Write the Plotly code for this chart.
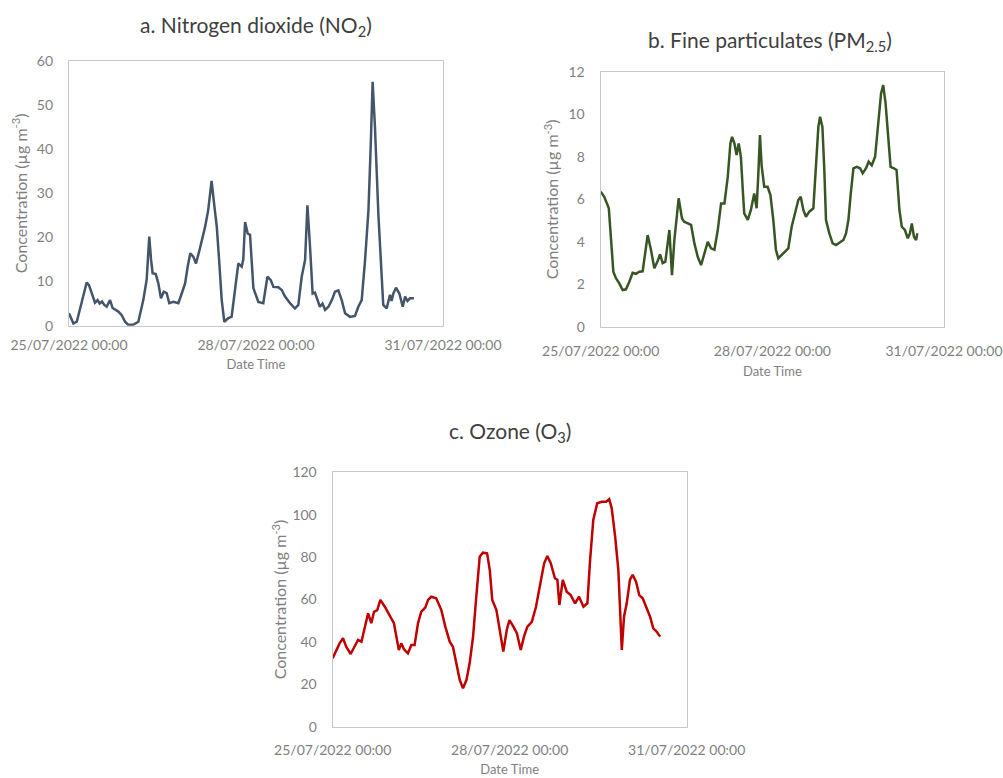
import pandas as pd
import plotly.graph_objects as go

# Hourly-scale monitoring readings, hours counted from 25/07/2022 00:00
start = pd.Timestamp("2022-07-25 00:00")

no2_hours = [0, 1.7, 3, 5.5, 6.8, 7.7, 9, 10, 11, 11.8, 12.7, 13.6, 14.5, 15.8, 16.8, 17.7, 19,
             20.3, 21.6, 22.8, 24.7, 26.7, 28.6, 29.9, 30.9, 31.6, 32.2, 33.4, 34.4, 35.4, 36.5,
             37.6, 38.6, 40.2, 42.1, 43.4, 44.7, 45.7, 46.7, 47.9, 48.9, 50.4, 52.4, 53.6, 54.9,
             56, 56.9, 57.8, 58.8, 59.8, 61.3, 62.6, 63.9, 65.2, 66.5, 67.1, 67.8, 68.8, 69.7,
             71, 72.9, 74.8, 76.4, 77.7, 78.7, 80.6, 81.9, 83.2, 85.1, 87, 88.3, 89.6, 90.9,
             91.8, 92.8, 93.8, 94.7, 95.6, 96.6, 97.6, 98.6, 99.9, 101.2, 102.4, 103.7, 105,
             106.3, 108.2, 110.1, 111.4, 112.7, 114, 115.3, 116.2, 116.9, 117.8, 119.1, 120.4,
             121, 122.3, 123.6, 124.2, 124.9, 125.9, 127.2, 128.5, 129.4, 130.3, 131.3, 132.8]
no2_values = [2.8, 0.5, 0.9, 6.6, 9.8, 9.2, 6.6, 5.2, 5.8, 5.0, 5.5, 4.7, 4.3, 5.8, 4.0, 3.6, 3.2,
              2.4, 0.9, 0.2, 0.2, 0.9, 5.8, 10.4, 20.2, 14.9, 11.9, 11.7, 9.6, 6.2, 7.7,
              7.4, 5.1, 5.4, 5.1, 7.3, 9.6, 13.4, 16.4, 15.6, 14.1, 17.5, 22.4, 26.2, 32.8,
              27.0, 22.4, 14.9, 5.8, 0.9, 1.7, 2.0, 8.8, 14.1, 13.4, 15.0, 23.5, 20.9, 20.6,
              8.5, 5.4, 5.1, 11.1, 10.3, 8.8, 8.7, 8.1, 6.6, 5.1, 3.9, 4.7, 11.1, 14.9,
              27.3, 17.9, 7.3, 7.5, 6.2, 4.3, 5.0, 3.6, 4.3, 5.8, 7.7, 8.0, 5.8,
              2.8, 2.0, 2.2, 4.3, 5.8, 14.9, 26.2, 41.3, 55.3, 45.1, 25.5, 11.1,
              4.7, 3.9, 7.0, 5.6, 7.3, 8.6, 7.3, 4.3, 6.6, 5.6, 6.2, 6.2]

pm25_hours = [0, 1.5, 3.4, 4.3, 5.3, 6.4, 7.8, 9.2, 10.6, 12, 13.4, 14.8, 16.2, 17.6, 18.7, 19.7,
              21.1, 22.5, 23.9, 24.9, 26, 27.1, 28.1, 28.8, 29.9, 30.9, 32.7, 34.1, 35, 36.5,
              37.9, 39.3, 40.7, 42.1, 43.5, 44.9, 46.3, 47.7, 49.1, 50.5, 51.9, 53.3, 54.4,
              55.1, 56.1, 57, 57.9, 58.8, 59.6, 60.2, 61.7, 63, 64.4, 65.4, 66.1, 66.8, 67.5,
              68.6, 70, 71.2, 72.4, 73.5, 74.5, 75.9, 77.3, 78.7, 80.1, 81.5, 82.9, 83.9, 85,
              86.1, 87.5, 89.2, 90.3, 91.3, 92, 93, 93.8, 94.5, 95.9, 97.3, 98.7, 100.4, 101.8,
              102.9, 103.9, 104.9, 106, 107.4, 108.8, 109.9, 111.3, 112.4, 113.7, 115.1, 116.4,
              117.6, 118.5, 119.5, 120.6, 121.6, 123, 124.1, 125.3, 126.3, 127.6, 128.8, 129.7,
              130.5, 131.4, 132.3, 132.8]
pm25_values = [6.36, 6.12, 5.58, 3.93, 2.6, 2.29, 2.05, 1.74, 1.77, 2.13, 2.55, 2.5, 2.6, 2.62, 3.62, 4.32,
               3.62, 2.76, 3.1, 3.42, 3.0, 3.07, 3.93, 4.56, 2.44, 4.09, 6.05, 5.1, 4.95, 4.87,
               4.8, 3.93, 3.3, 2.91, 3.46, 4.0, 3.7, 3.63, 4.56, 5.81, 5.81, 7.06, 8.63,
               8.94, 8.63, 8.08, 8.63, 8.0, 6.44, 5.34, 5.03, 5.5, 6.28, 5.58, 7.14, 9.02, 7.6,
               6.59, 6.59, 6.2, 5.03, 3.62, 3.23, 3.38, 3.54, 3.7, 4.71, 5.34, 5.97, 6.12, 5.5,
               5.18, 5.42, 5.58, 7.38, 9.41, 9.88, 9.41, 7.38, 5.03, 4.4, 3.93, 3.85, 4.0, 4.09,
               4.4, 5.03, 6.28, 7.46, 7.53, 7.46, 7.22, 7.46, 7.77, 7.6, 8.0, 9.57,
               10.98, 11.37, 10.51, 8.94, 7.53, 7.46, 7.38, 5.5, 4.71, 4.56, 4.17, 4.4,
               4.87, 4.24, 4.09, 4.4]

o3_hours = [0, 1.5, 2.8, 4.2, 5.5, 7.3, 9, 10.3, 11.7, 13, 14.4, 15.7, 16.8, 18.1, 19.4, 21.2,
            23.2, 24.9, 25.9, 26.9, 27.9, 29, 30.6, 32, 33.3, 34.7, 36, 37.7, 38.8, 40.1, 42.1,
            44.2, 45.8, 47.6, 48.9, 50.3, 51.7, 53, 54.4, 55.7, 57.1, 58.4, 59.8, 61.1, 62.8,
            63.9, 64.9, 66.6, 67.9, 69.4, 70.8, 71.9, 73.5, 74.9, 76.5, 77.8, 79.2, 81, 82.7,
            84.3, 86, 87.3, 88.7, 90.4, 91.4, 92.2, 93.6, 95.2, 96.8, 98.6, 100.2, 102, 103.6,
            104.7, 106, 107.6, 109.4, 111.2, 112.5, 113.5, 114.9, 116.2, 116.9, 117.6, 118.5,
            119.6, 120.9, 122, 123.4, 124.7, 126.1, 127.7, 129.1, 130.4, 131.8, 133.2]
o3_values = [32.3, 36.2, 39.3, 41.7, 37.7, 34.3, 37.7, 40.9, 40.1, 47.2, 53.5, 48.8, 54.2, 55.0, 59.8, 56.6,
             52.7, 48.8, 42.5, 36.2, 39.3, 36.5, 34.6, 38.5, 38.5, 48.8, 54.2, 56.3, 59.8, 61.3, 60.6,
             55.0, 47.2, 40.1, 37.7, 29.1, 22.0, 18.1, 22.0, 29.9, 42.5, 61.3, 80.2, 82.1, 81.8,
             73.9, 59.8, 55.0, 45.6, 35.4, 45.6, 50.3, 47.2, 44.1, 36.2, 42.5, 47.2, 49.5, 56.6,
             66.0, 77.1, 80.5, 77.1, 70.0, 69.3, 57.4, 69.2, 63.7, 62.1, 58.2, 61.3, 56.6, 58.2,
             78.6, 97.5, 105.4, 106.1, 106.1, 107.3, 103.0, 89.6, 73.9, 53.5, 36.2, 51.9,
             58.2, 69.2, 71.6, 68.4, 62.1, 60.6, 55.8, 51.9, 46.4, 44.8, 42.5]

x_tick_dates = ["2022-07-25", "2022-07-28", "2022-07-31"]
x_tick_text = ["25/07/2022 00:00", "28/07/2022 00:00", "31/07/2022 00:00"]


def to_times(hours):
    return start + pd.to_timedelta(hours, unit="h")


FONT = "Lato, 'Open Sans', sans-serif"
TICK_GREY = "#7f7f7f"
FRAME = "#c8c8c8"
W, H = 1003, 778

fig = go.Figure()
fig.add_trace(go.Scatter(x=to_times(no2_hours), y=no2_values, mode="lines",
                         line=dict(color="#44546A", width=2.5), xaxis="x", yaxis="y",
                         showlegend=False))
fig.add_trace(go.Scatter(x=to_times(pm25_hours), y=pm25_values, mode="lines",
                         line=dict(color="#375623", width=2.5), xaxis="x2", yaxis="y2",
                         showlegend=False))
fig.add_trace(go.Scatter(x=to_times(o3_hours), y=o3_values, mode="lines",
                         line=dict(color="#C00000", width=2.5), xaxis="x3", yaxis="y3",
                         showlegend=False))


def xaxis(domain, anchor, label_gap):
    return dict(domain=domain, anchor=anchor, type="date", automargin=False,
                range=[x_tick_dates[0], x_tick_dates[-1]],
                tickmode="array", tickvals=x_tick_dates, ticktext=x_tick_text,
                showgrid=False, zeroline=False, showline=True, mirror=True,
                linecolor=FRAME, linewidth=1.3, ticks="", ticklabelstandoff=label_gap,
                tickfont=dict(family=FONT, size=14, color=TICK_GREY),
                title=dict(text="Date Time", standoff=8,
                           font=dict(family=FONT, size=13, color=TICK_GREY)))


def yaxis(domain, anchor, top, step, title_gap):
    return dict(domain=domain, anchor=anchor, range=[0, top], dtick=step, tick0=0,
                automargin=False,
                showgrid=False, zeroline=False, showline=True, mirror=True,
                linecolor=FRAME, linewidth=1.3, ticks="", ticklabelstandoff=12,
                tickfont=dict(family=FONT, size=14, color=TICK_GREY),
                title=dict(text="Concentration (µg m<sup>-3</sup>)", standoff=title_gap,
                           font=dict(family=FONT, size=16, color=TICK_GREY)))


# Panel boxes in pixels: (left, right, top, bottom)
boxes = {
    "a": (69, 443, 61, 325.7),
    "b": (600.7, 944, 71.7, 327),
    "c": (332.7, 686.7, 472.3, 726.7),
}


def xdom(b):
    return [b[0] / W, b[1] / W]


def ydom(b):
    return [1 - b[3] / H, 1 - b[2] / H]


fig.update_layout(
    width=W, height=H,
    margin=dict(l=0, r=0, t=0, b=0),
    paper_bgcolor="white", plot_bgcolor="white",
    xaxis=xaxis(xdom(boxes["a"]), "y", 6),
    yaxis=yaxis(ydom(boxes["a"]), "x", 60, 10, 5),
    xaxis2=xaxis(xdom(boxes["b"]), "y2", 11),
    yaxis2=yaxis(ydom(boxes["b"]), "x2", 12, 2, 5),
    xaxis3=xaxis(xdom(boxes["c"]), "y3", 10),
    yaxis3=yaxis(ydom(boxes["c"]), "x3", 120, 20, 1),
)

titles = [
    ("a. Nitrogen dioxide (NO<sub>2</sub>)", 256, 26),
    ("b. Fine particulates (PM<sub>2.5</sub>)", 770, 41),
    ("c. Ozone (O<sub>3</sub>)", 510, 432),
]
for text, x, y in titles:
    fig.add_annotation(text=text, x=x / W, y=1 - y / H, xref="paper", yref="paper",
                       xanchor="center", yanchor="middle", showarrow=False,
                       font=dict(family=FONT, size=21, color="#404040"))

fig.write_html("out.html")
